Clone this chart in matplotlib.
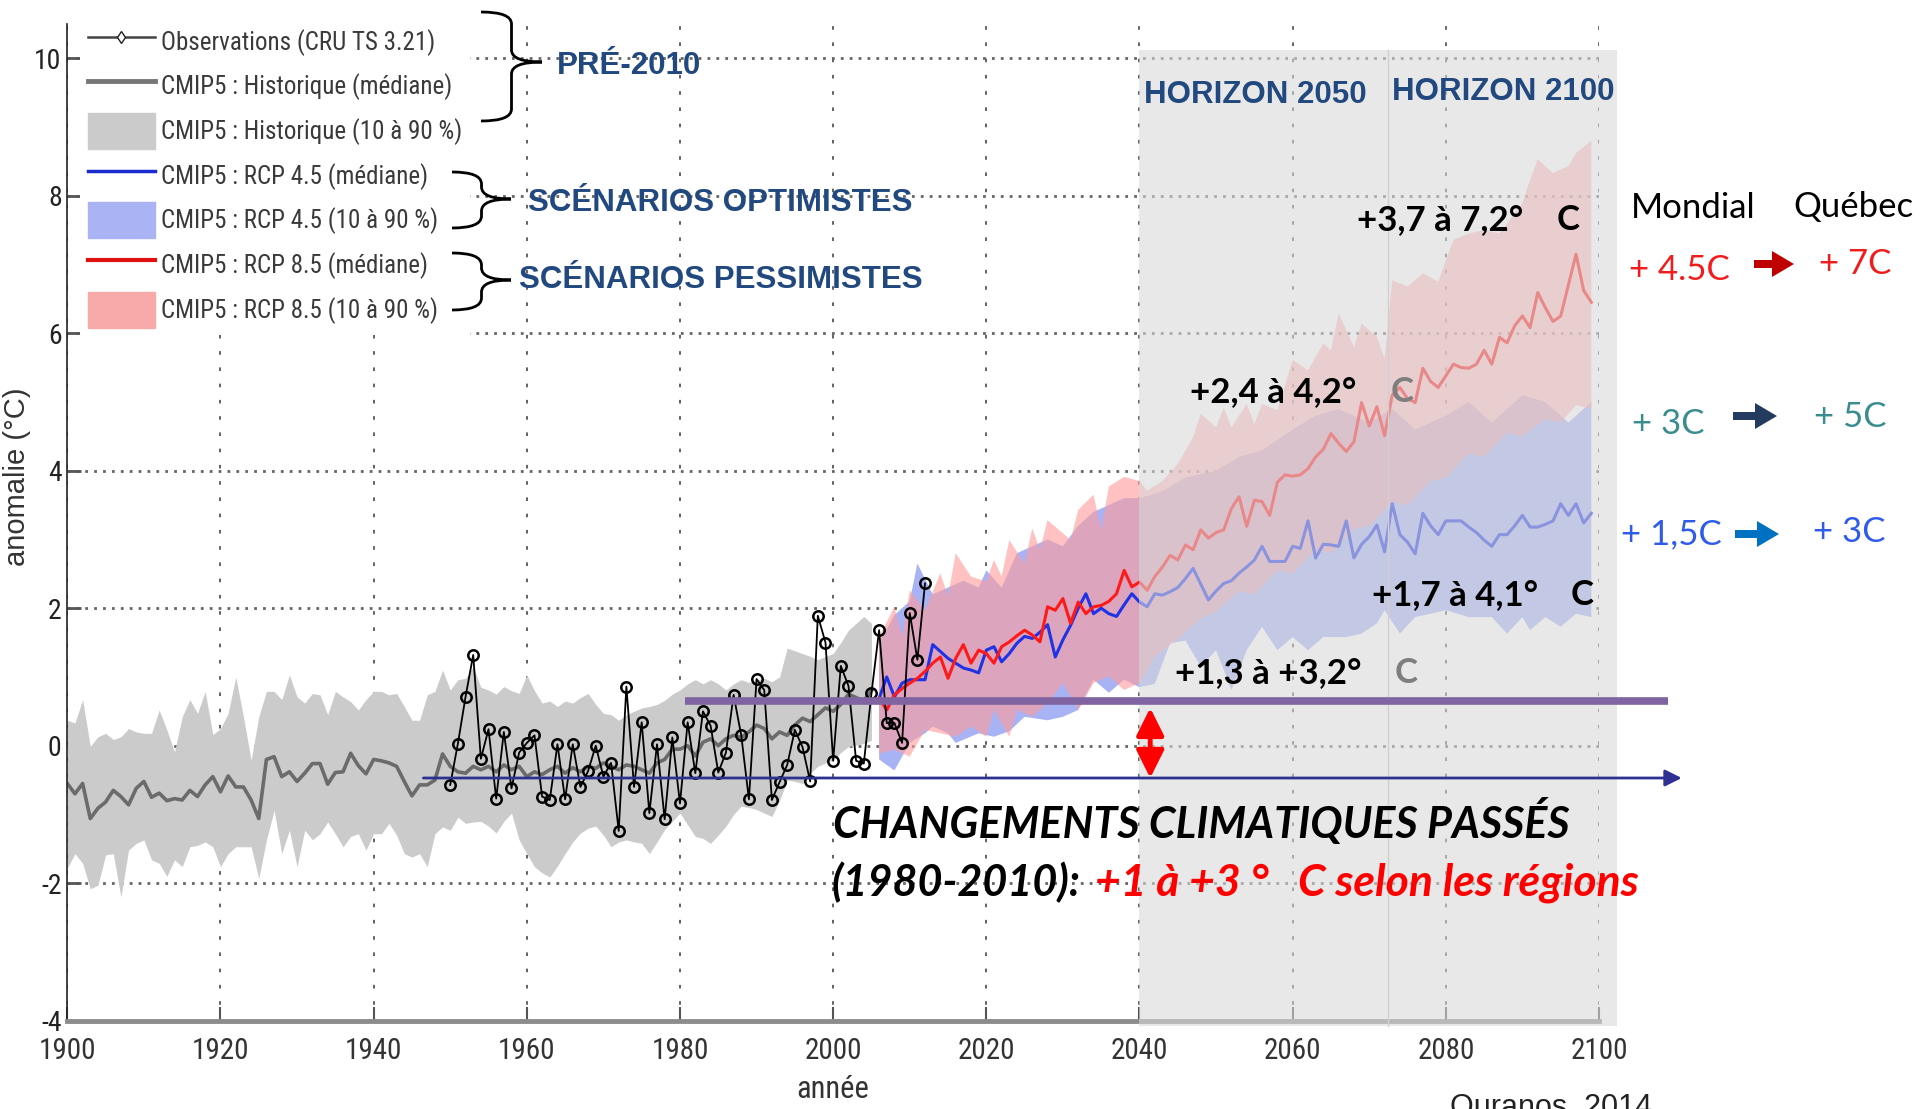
import numpy as np
import matplotlib.pyplot as plt
from matplotlib.lines import Line2D
from matplotlib.patches import Patch, Rectangle, FancyArrow, PathPatch
from matplotlib.path import Path

NARROW = ['Liberation Sans Narrow', 'Roboto Condensed', 'Lato', 'DejaVu Sans']
plt.rcParams['font.family'] = NARROW
plt.rcParams['axes.unicode_minus'] = False

SANS = ['Liberation Sans', 'DejaVu Sans']
CAL = ['Lato', 'DejaVu Sans']

# ---- values ----
hist_years = list(range(1900, 2006))
hist_median = [
    -0.55, -0.70, -0.55, -1.06, -0.91, -0.82, -0.65, -0.74, -0.86, -0.62,
    -0.52, -0.75, -0.69, -0.80, -0.77, -0.79, -0.65, -0.74, -0.57, -0.45,
    -0.67, -0.44, -0.60, -0.60, -0.79, -1.06, -0.20, -0.16, -0.45, -0.38,
    -0.52, -0.40, -0.26, -0.26, -0.56, -0.39, -0.38, -0.11, -0.29, -0.41,
    -0.20, -0.22, -0.25, -0.30, -0.52, -0.73, -0.57, -0.57, -0.50, -0.12,
    -0.30, -0.38, -0.40, -0.30, -0.35, -0.30, -0.38, -0.28, -0.35, -0.30,
    -0.45, -0.38, -0.42, -0.35, -0.30, -0.40, -0.32, -0.38, -0.30, -0.33,
    -0.25, -0.30, -0.35, -0.28, -0.30, -0.35, -0.40, -0.25, -0.20, -0.05,
    -0.05, 0.00, -0.15, 0.05, 0.10, 0.00, 0.10, 0.15, 0.12, 0.20,
    0.30, 0.25, 0.10, 0.20, 0.15, 0.30, 0.40, 0.35, 0.45, 0.55,
    0.50, 0.60, 0.75, 0.70, 0.65, 0.80]
hist_high = [
    0.37, 0.33, 0.67, -0.01, 0.13, 0.18, 0.09, 0.13, 0.25, 0.20,
    0.18, 0.18, 0.52, 0.23, -0.09, 0.42, 0.67, 0.47, 0.79, 0.16,
    0.25, 0.47, 1.00, 0.42, -0.21, 0.42, 0.79, 0.79, 0.67, 1.03,
    0.71, 0.62, 0.76, 0.74, 0.45, 0.79, 0.71, 0.64, 0.52, 0.67,
    0.79, 0.79, 0.74, 0.76, 0.57, 0.37, 0.37, 0.74, 0.79, 1.10,
    0.81, 0.96, 0.98, 1.15, 0.85, 0.81, 0.75, 0.86, 0.80, 0.76,
    1.03, 0.80, 0.62, 0.65, 0.57, 0.65, 0.62, 0.70, 0.76, 0.60,
    0.47, 0.45, 0.37, 0.45, 0.50, 0.55, 0.57, 0.60, 0.66, 0.75,
    0.81, 0.90, 0.96, 0.90, 0.96, 0.90, 0.81, 0.90, 0.96, 0.92,
    0.96, 0.98, 0.93, 1.00, 1.42, 1.38, 1.34, 1.30, 1.25, 1.30,
    1.34, 1.50, 1.68, 1.78, 1.88, 1.78]
hist_low = [
    -1.78, -1.57, -1.71, -2.08, -2.03, -1.59, -1.57, -2.20, -1.52, -1.42,
    -1.37, -1.66, -1.71, -1.90, -1.66, -1.76, -1.47, -1.45, -1.40, -1.47,
    -1.76, -1.57, -1.47, -1.47, -1.47, -1.93, -1.37, -0.94, -1.57, -1.23,
    -1.76, -1.23, -1.37, -1.28, -1.11, -1.28, -1.47, -1.32, -1.28, -1.52,
    -1.28, -1.28, -1.13, -1.30, -1.57, -1.62, -1.57, -1.76, -1.28, -1.18,
    -1.23, -1.04, -1.13, -1.11, -1.10, -1.17, -1.27, -1.10, -0.98, -1.37,
    -1.57, -1.76, -1.85, -1.91, -1.75, -1.57, -1.40, -1.27, -1.20, -1.17,
    -1.30, -1.47, -1.40, -1.37, -1.40, -1.42, -1.57, -1.40, -1.22, -1.10,
    -0.98, -1.15, -1.32, -1.35, -1.42, -1.30, -1.17, -1.00, -0.88, -0.90,
    -0.93, -0.98, -1.03, -0.80, -0.50, -0.52, -0.55, -0.40, -0.30, -0.25,
    -0.21, -0.10, -0.01, 0.01, 0.03, 0.08]

obs_years = list(range(1950, 2013))
obs_values = [
    -0.57, 0.03, 0.71, 1.32, -0.19, 0.24, -0.77, 0.20, -0.62, -0.10,
    0.04, 0.15, -0.74, -0.79, 0.02, -0.78, 0.02, -0.60, -0.37, 0.00,
    -0.45, -0.25, -1.24, 0.86, -0.60, 0.34, -0.98, 0.02, -1.07, 0.12,
    -0.84, 0.34, -0.40, 0.50, 0.29, -0.39, -0.10, 0.74, 0.15, -0.78,
    0.97, 0.81, -0.79, -0.53, -0.28, 0.23, -0.02, -0.52, 1.89, 1.50,
    -0.22, 1.16, 0.87, -0.22, -0.26, 0.76, 1.68, 0.33, 0.33, 0.04,
    1.93, 1.25, 2.36]

proj_years = list(range(2006, 2100))
rcp45_median = [
    0.69, 1.00, 0.71, 0.91, 0.96, 0.96, 0.96, 1.47, 1.37, 1.27,
    1.20, 1.13, 1.10, 1.06, 1.39, 1.44, 1.22, 1.34, 1.49, 1.59,
    1.56, 1.65, 1.76, 1.29, 1.54, 1.75, 2.00, 2.21, 1.92, 2.00,
    1.92, 1.88, 2.05, 2.21, 2.09, 2.02, 2.21, 2.19, 2.24, 2.30,
    2.43, 2.58, 2.35, 2.12, 2.25, 2.36, 2.40, 2.51, 2.60, 2.70,
    2.90, 2.68, 2.68, 2.68, 2.90, 2.87, 3.27, 2.73, 2.93, 2.92,
    2.90, 3.27, 2.73, 2.93, 3.04, 3.21, 2.82, 3.52, 3.07, 2.96,
    2.79, 3.38, 3.20, 3.07, 3.27, 3.27, 3.27, 3.18, 3.10, 2.99,
    2.90, 3.07, 3.07, 3.20, 3.35, 3.18, 3.18, 3.22, 3.27, 3.52,
    3.35, 3.52, 3.24, 3.38]
rcp85_median = [
    0.69, 0.52, 0.74, 0.83, 0.91, 0.98, 1.08, 1.20, 1.29, 0.98,
    1.27, 1.47, 1.20, 1.39, 1.34, 1.20, 1.44, 1.51, 1.60, 1.68,
    1.61, 1.51, 2.02, 1.97, 2.14, 1.78, 2.09, 1.92, 2.02, 2.04,
    2.10, 2.21, 2.55, 2.31, 2.38, 2.26, 2.46, 2.60, 2.77, 2.70,
    2.92, 2.85, 3.14, 3.02, 3.10, 3.14, 3.45, 3.62, 3.19, 3.57,
    3.55, 3.35, 3.83, 3.94, 3.92, 3.94, 4.03, 4.20, 4.31, 4.54,
    4.40, 4.28, 4.42, 4.99, 4.65, 4.93, 4.51, 5.10, 5.21, 5.05,
    4.99, 5.49, 5.30, 5.21, 5.38, 5.55, 5.50, 5.49, 5.55, 5.75,
    5.55, 5.94, 5.86, 6.11, 6.25, 6.08, 6.59, 6.37, 6.17, 6.25,
    6.70, 7.15, 6.62, 6.45]

rcp45_high_years = [
    2006, 2008, 2010, 2011, 2013, 2015, 2017, 2019, 2020, 2022,
    2024, 2026, 2028, 2030, 2032, 2034, 2036, 2038, 2040, 2043,
    2046, 2050, 2053, 2056, 2060, 2063, 2066, 2070, 2073, 2076,
    2080, 2083, 2086, 2090, 2093, 2096, 2099]
rcp45_high = [
    1.50, 1.90, 2.10, 2.65, 2.20, 2.30, 2.40, 2.30, 2.55, 2.30,
    2.80, 2.90, 3.00, 2.90, 3.20, 3.40, 3.50, 3.60, 3.60, 3.70,
    3.90, 4.00, 4.20, 4.30, 4.60, 4.80, 4.90, 4.70, 4.90, 4.60,
    4.80, 5.00, 4.70, 5.10, 5.00, 4.70, 5.00]
rcp45_low_years = [
    2006, 2008, 2010, 2012, 2013, 2015, 2016, 2019, 2021, 2023,
    2025, 2028, 2030, 2032, 2034, 2036, 2038, 2040, 2042, 2044,
    2046, 2048, 2050, 2052, 2054, 2056, 2058, 2060, 2062, 2064,
    2067, 2069, 2071, 2072, 2074, 2076, 2078, 2080, 2083, 2086,
    2088, 2090, 2091, 2093, 2095, 2097, 2099]
rcp45_low = [
    -0.20, -0.36, 0.04, 0.18, 0.28, 0.18, 0.04, 0.18, 0.13, 0.21,
    0.42, 0.37, 0.42, 0.52, 0.96, 0.77, 0.96, 0.85, 0.90, 1.49,
    1.53, 1.15, 1.39, 0.81, 1.39, 1.73, 1.39, 1.58, 1.39, 1.58,
    1.58, 1.63, 1.78, 1.97, 1.63, 1.87, 1.92, 1.97, 1.87, 1.87,
    1.63, 1.87, 1.68, 1.87, 1.73, 1.92, 1.87]

rcp85_high_years = [
    2006, 2008, 2009, 2010, 2012, 2014, 2015, 2016, 2018, 2020,
    2021, 2022, 2023, 2025, 2026, 2027, 2028, 2030, 2031, 2032,
    2034, 2035, 2036, 2038, 2040, 2041, 2043, 2045, 2047, 2048,
    2050, 2051, 2052, 2054, 2055, 2056, 2058, 2060, 2062, 2064,
    2065, 2066, 2068, 2069, 2071, 2072, 2073, 2075, 2077, 2079,
    2081, 2083, 2085, 2087, 2090, 2091, 2092, 2094, 2096, 2097,
    2099]
rcp85_high = [
    1.58, 2.02, 1.58, 2.26, 1.97, 2.51, 2.17, 2.80, 2.46, 2.39,
    2.70, 2.46, 2.99, 2.65, 3.16, 2.85, 3.28, 3.09, 2.99, 3.43,
    3.65, 3.14, 3.77, 3.91, 3.85, 3.71, 3.85, 4.10, 4.49, 4.83,
    4.63, 4.92, 4.63, 4.97, 4.68, 4.97, 4.88, 5.61, 5.46, 5.85,
    5.75, 6.29, 5.80, 6.14, 5.95, 5.63, 6.77, 6.68, 6.87, 6.75,
    7.36, 7.45, 7.50, 7.45, 7.89, 8.23, 8.53, 8.33, 8.43, 8.62,
    8.80]
rcp85_low_years = [
    2006, 2008, 2010, 2012, 2014, 2016, 2018, 2020, 2021, 2023,
    2024, 2026, 2028, 2030, 2032, 2034, 2036, 2038, 2040, 2042,
    2045, 2048, 2050, 2053, 2055, 2058, 2060, 2063, 2065, 2068,
    2070, 2073, 2075, 2078, 2080, 2083, 2085, 2088, 2090, 2093,
    2095, 2097, 2099]
rcp85_low = [
    -0.11, -0.06, -0.16, 0.23, 0.18, 0.13, 0.28, 0.13, 0.52, 0.13,
    0.52, 0.42, 0.62, 0.91, 0.52, 0.91, 1.01, 0.81, 0.91, 1.30,
    1.55, 1.85, 1.95, 2.25, 2.20, 2.55, 2.50, 2.85, 2.80, 3.15,
    3.20, 3.55, 3.50, 3.85, 3.90, 4.25, 4.20, 4.55, 4.50, 4.75,
    4.70, 4.95, 4.90]

x_ticks = [1900, 1920, 1940, 1960, 1980, 2000, 2020, 2040, 2060, 2080, 2100]
y_ticks = [-4, -2, 0, 2, 4, 6, 8, 10]
legend_labels = [
    'Observations (CRU TS 3.21)',
    'CMIP5 : Historique (médiane)',
    'CMIP5 : Historique (10 à 90 %)',
    'CMIP5 : RCP 4.5 (médiane)',
    'CMIP5 : RCP 4.5 (10 à 90 %)',
    'CMIP5 : RCP 8.5 (médiane)',
    'CMIP5 : RCP 8.5 (10 à 90 %)',
]
past_level = 0.65      # purple reference line
base_level = -0.47     # blue baseline arrow

W, H = 1920, 1109
fig = plt.figure(figsize=(W / 100, H / 100), dpi=100)
ax = fig.add_axes([67.3 / W, 1 - 1020.7 / H, (1599 - 67.3) / W, (1020.7 - 23.8) / H])
ax.set_xlim(1900, 2100)
ax.set_ylim(-4, 10.5)


def band(xs_hi, hi, xs_lo, lo, **kw):
    ax.fill(list(xs_hi) + list(xs_lo)[::-1], list(hi) + list(lo)[::-1], lw=0, **kw)


ax.fill_between(hist_years, hist_low, hist_high, color='#cbcbcb', lw=0, zorder=1)
band(rcp45_high_years, rcp45_high, rcp45_low_years, rcp45_low, color='#a7b3f5', zorder=1.1)
band(rcp85_high_years, rcp85_high, rcp85_low_years, rcp85_low, color='#ff9c9c', alpha=0.62, zorder=1.2)

ax.plot(hist_years, hist_median, color='#6b6b6b', lw=2.6, zorder=2)
ax.plot(proj_years, rcp45_median, color='#1f33e6', lw=2.2, zorder=3)
ax.plot(proj_years, rcp85_median, color='#ff1a1a', lw=2.2, zorder=3)
ax.plot(obs_years, obs_values, color='black', lw=1.3, marker='o', ms=7.5,
        mfc='none', mec='black', mew=1.8, zorder=4)

# horizon 2050 / 2100 shading
for x0, x1 in [(2040, 2072.4), (2072.4, 2102.3)]:
    ax.add_patch(Rectangle((x0, -4.08), x1 - x0, 14.2, facecolor='#d9d9d9',
                           alpha=0.58, lw=0, zorder=5, clip_on=False))
ax.plot([2072.4, 2072.4], [-4.08, 10.12], color='#d0d0d0', lw=1, zorder=5, clip_on=False)

ax.plot([1980.7, 2109], [past_level, past_level], color='#8064a2', lw=5.5,
        solid_capstyle='butt', zorder=7, clip_on=False)
ax.annotate('', xy=(2110.8, base_level), xytext=(1946.5, base_level),
            arrowprops=dict(arrowstyle='-|>', color='#2e3192', lw=2,
                            mutation_scale=25, shrinkA=0, shrinkB=0),
            annotation_clip=False, zorder=7)
ax.annotate('', xy=(2041.4, past_level - 0.1), xytext=(2041.4, base_level),
            arrowprops=dict(arrowstyle='<|-|>', color='#ff0000', lw=3.5,
                            mutation_scale=42, shrinkA=0, shrinkB=0),
            annotation_clip=False, zorder=7)

# axes styling
ax.set_xticks(x_ticks)
ax.set_yticks(y_ticks)
ax.tick_params(axis='x', direction='in', length=10, width=1.5, color='#555',
               labelsize=21, labelcolor='#333', pad=11.5)
ax.tick_params(axis='y', direction='in', length=10, width=2, color='#555',
               labelsize=20, labelcolor='#222', pad=4)
for s in ['top', 'right']:
    ax.spines[s].set_visible(False)
ax.spines['left'].set_color('#222')
ax.spines['left'].set_linewidth(1.2)
ax.spines['bottom'].set_color('#8c8c8c')
ax.spines['bottom'].set_linewidth(3.5)
ax.set_axisbelow(True)
ax.xaxis.grid(True, color='#555', lw=1.3, linestyle=(0, (2, 7)))
ax.yaxis.grid(True, color='#666', lw=2, linestyle=(0, (1, 2.2)))

handles = [
    Line2D([], [], color='#444', lw=1.8, marker='d', ms=6, mfc='white', mec='#222'),
    Line2D([], [], color='#777', lw=3.5),
    Patch(color='#cbcbcb'),
    Line2D([], [], color='#1a2bd0', lw=2.5),
    Patch(color='#aab4f5'),
    Line2D([], [], color='#e01010', lw=3),
    Patch(color='#f8aaaa'),
]
leg = ax.legend(handles, legend_labels, loc='upper left',
                bbox_to_anchor=(80 / W, 1 - 16 / H), bbox_transform=fig.transFigure,
                frameon=True, facecolor='white', edgecolor='none', framealpha=1,
                fancybox=False, fontsize=18, handlelength=2.7, handleheight=1.85,
                labelspacing=0.34, handletextpad=0.25, borderpad=0.3, borderaxespad=0)
leg.set_zorder(8)
for t in leg.get_texts():
    t.set_color('#3a3a3a')

# overlay in pixel coordinates for the annotations
ov = fig.add_axes([0, 0, 1, 1], zorder=10)
ov.set_xlim(0, W)
ov.set_ylim(H, 0)
ov.axis('off')


def brace(xl, xt, yt, yb, ym, r=12):
    xm = (xl + xt) / 2
    verts = [(xl, yt), (xm, yt), (xm, yt + r), (xm, ym - r),
             (xm, ym), (xt, ym), (xm, ym), (xm, ym + r),
             (xm, yb - r), (xm, yb), (xl, yb)]
    codes = [Path.MOVETO, Path.CURVE3, Path.CURVE3, Path.LINETO,
             Path.CURVE3, Path.CURVE3, Path.CURVE3, Path.CURVE3,
             Path.LINETO, Path.CURVE3, Path.CURVE3]
    ov.add_patch(PathPatch(Path(verts, codes), fill=False, lw=2, ec='black'))


brace(481, 542, 12, 121, 62)
brace(452, 511, 172, 228, 199)
brace(452, 511, 253, 310, 280)

BLUE_T = '#22497f'
for x, y, s in [(557, 74, 'PRÉ-2010'), (528, 211, 'SCÉNARIOS OPTIMISTES'),
                (519, 288, 'SCÉNARIOS PESSIMISTES'), (1144, 103, 'HORIZON 2050'),
                (1392, 100, 'HORIZON 2100')]:
    ov.text(x, y, s, color=BLUE_T, fontsize=22.5, fontweight='bold', family=SANS, va='baseline')

for x, y, s, xc, cc in [(1357, 230, '+3,7 à 7,2°', 1557, 'black'),
                        (1190, 402, '+2,4 à 4,2°', 1391, '#7f7f7f'),
                        (1372, 605, '+1,7 à 4,1°', 1571, 'black'),
                        (1175, 683, '+1,3 à +3,2°', 1395, '#7f7f7f')]:
    ov.text(x, y, s, color='black', fontsize=25, fontweight='bold', family=CAL, va='baseline')
    ov.text(xc, y, 'C', color=cc, fontsize=25, fontweight='bold', family=CAL, va='baseline')

ov.text(1631, 217.5, 'Mondial', fontsize=25, family=CAL, va='baseline')
ov.text(1793, 217.5, 'Québec', fontsize=25, family=CAL, va='baseline')
for x, y, s, c in [(1629, 279.5, '+ 4.5C', '#f21c1c'), (1819, 274.5, '+ 7C', '#f21c1c'),
                   (1632, 433.5, '+ 3C', '#3a8d8f'), (1814, 427, '+ 5C', '#3a8d8f'),
                   (1621, 544.5, '+ 1,5C', '#2f5bea'), (1813, 542.5, '+ 3C', '#2f5bea')]:
    ov.text(x, y, s, color=c, fontsize=25, family=CAL, va='baseline')
for x0, x1, y, c in [(1754, 1794, 264, '#c00000'), (1733, 1777, 416, '#243a5e'),
                     (1735, 1779, 534, '#0070c0')]:
    ov.add_patch(FancyArrow(x0, y, x1 - x0, 0, width=8, head_width=26, head_length=22,
                            length_includes_head=True, color=c, lw=0))

ov.text(833, 838, 'CHANGEMENTS CLIMATIQUES PASSÉS', fontsize=31, fontweight='bold',
        fontstyle='italic', family=CAL, va='baseline')
past = ov.text(832, 896, '(1980-2010):', fontsize=31, fontweight='bold',
               fontstyle='italic', family=CAL, va='baseline')
ov.annotate('+1 à +3 °   C selon les régions', xy=(1, 0), xycoords=past,
            xytext=(10, 0), textcoords='offset points', va='bottom', ha='left',
            fontsize=32, fontweight='bold', fontstyle='italic', family=CAL, color='#ff0000')

ov.text(17, 477, 'anomalie (°C)', rotation=90, ha='center', va='center',
        fontsize=21, family=SANS, color='#333')
ov.text(833, 1090, 'année', ha='center', va='center', fontsize=22, color='#333')
ov.text(1450, 1093, 'Ouranos, 2014', ha='left', va='top', fontsize=22, family=SANS, color='#222')

fig.savefig('out.png', dpi=100)
